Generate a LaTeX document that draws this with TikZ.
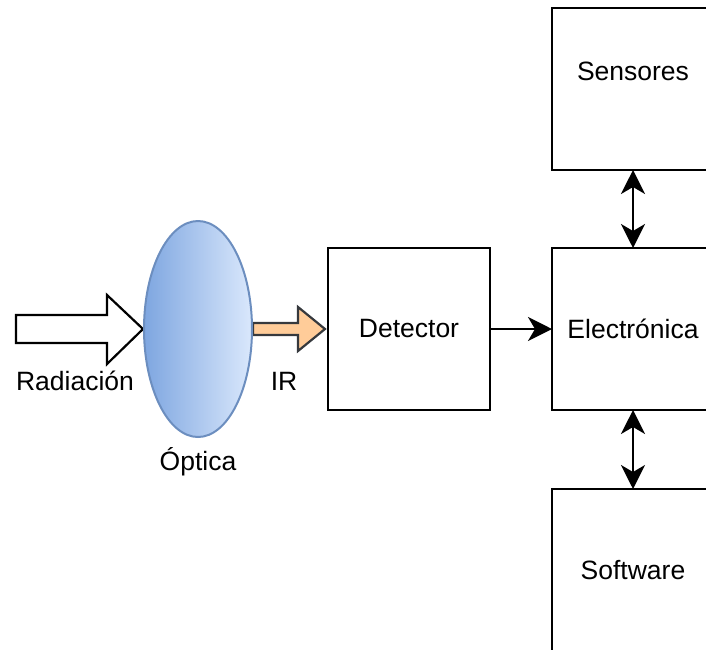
\documentclass[tikz,border=0pt]{standalone}
\usepackage{fontspec}
\setmainfont{Liberation Sans}
\usetikzlibrary{shapes.geometric,arrows.meta}
\definecolor{lensL}{HTML}{7EA6E0}
\definecolor{lensR}{HTML}{DAE8FC}
\definecolor{lensB}{HTML}{6C8EBF}
\definecolor{irfill}{HTML}{FFCC99}
\definecolor{irdraw}{HTML}{36393D}
\begin{document}
\begin{tikzpicture}[x=1pt,y=-1pt,
  txt/.style={font=\fontsize{26.5}{30}\selectfont,inner sep=0pt},
  box/.style={draw,line width=2pt,minimum width=162pt,minimum height=162pt,inner sep=0pt,outer sep=0pt,txt},
  tip/.style={Stealth[length=24pt,width=24pt,inset=7pt]},
  conn/.style={line width=2pt,-{Stealth[length=24pt,width=24pt,inset=7pt]}},
  dconn/.style={line width=2pt,{Stealth[length=24pt,width=24pt,inset=7pt]}-{Stealth[length=24pt,width=24pt,inset=7pt]}}
]
\useasboundingbox (0,0) rectangle (706,649);
\clip (0,0) rectangle (706,649);
% block arrows
\draw[line width=2.2pt,fill=white,line join=miter] (16,315) -- (107,315) -- (107,295) -- (143,329) -- (107,364) -- (107,343) -- (16,343) -- cycle;
\draw[line width=2.2pt,draw=irdraw,fill=irfill,line join=miter] (253,323) -- (298,323) -- (298,307) -- (325,329) -- (298,351) -- (298,335) -- (253,335) -- cycle;
% lens
\node[ellipse,draw=lensB,line width=2pt,left color=lensL,right color=lensR,minimum width=108pt,minimum height=216pt,inner sep=0pt] (lens) at (198,329) {};
% boxes
\node[box] (det) at (409,329) {Detector};
\node[box] (ele) at (633,329) {Electr\'onica};
\node[box] (sen) at (633,89) {};
\node[box] (sof) at (633,570) {Software};
% labels
\node[txt] (lsen) at (633,71) {Sensores};
\node[txt] (lrad) at (75,381) {Radiaci\'on};
\node[txt] (lir) at (284,381) {IR};
\node[txt] (lopt) at (198,462) {\'Optica};
% connectors
\draw[conn] (det.east) -- (ele.west);
\draw[dconn] (sen.south) -- (ele.north);
\draw[dconn] (ele.south) -- (sof.north);
\end{tikzpicture}
\end{document}
